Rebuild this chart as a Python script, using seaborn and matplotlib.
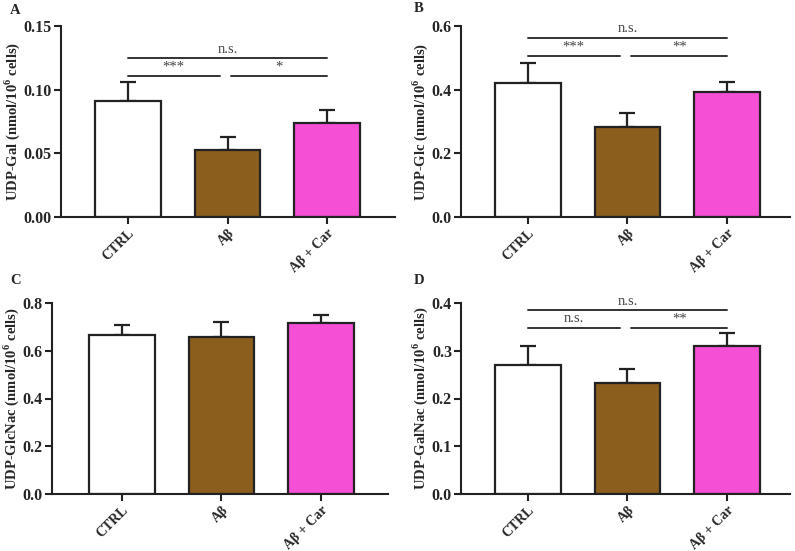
import matplotlib
matplotlib.use("Agg")
import matplotlib.pyplot as plt
import seaborn as sns
import numpy as np
import pandas as pd

categories = ["CTRL", "Aβ", "Aβ + Car"]
colors = ["#FFFFFF", "#8B5E1E", "#F54FD6"]

gal_mean = [0.0913, 0.0529, 0.0736]
gal_err = [0.0147, 0.0097, 0.0107]
glc_mean = [0.422, 0.283, 0.392]
glc_err = [0.063, 0.043, 0.031]
glcnac_mean = [0.668, 0.657, 0.716]
glcnac_err = [0.041, 0.066, 0.034]
galnac_mean = [0.270, 0.2326, 0.310]
galnac_err = [0.040, 0.030, 0.027]

ylabels = ["UDP-Gal (nmol/10$^{\\mathbf{6}}$ cells)",
           "UDP-Glc (nmol/10$^{\\mathbf{6}}$ cells)",
           "UDP-GlcNac (nmol/10$^{\\mathbf{6}}$ cells)",
           "UDP-GalNac (nmol/10$^{\\mathbf{6}}$ cells)"]
letters = ["A", "B", "C", "D"]
ylims = [(0, 0.15), (0, 0.6), (0, 0.8), (0, 0.4)]
yticks = [[0.0, 0.05, 0.10, 0.15], [0.0, 0.2, 0.4, 0.6],
          [0.0, 0.2, 0.4, 0.6, 0.8], [0.0, 0.1, 0.2, 0.3, 0.4]]
yfmt = ["{:.2f}", "{:.1f}", "{:.1f}", "{:.1f}"]

# significance: (top label, top level, left label, right label, lower level)
sig = [("n.s.", 0.125, "***", "*", 0.1107),
       ("n.s.", 0.563, "***", "**", 0.506),
       None,
       ("n.s.", 0.386, "n.s.", "**", 0.349)]

sns.set_style("ticks")
plt.rcParams['font.family'] = ['Liberation Serif', 'DejaVu Serif']
plt.rcParams['mathtext.fontset'] = 'custom'
plt.rcParams['mathtext.rm'] = 'Liberation Serif'
plt.rcParams['mathtext.bf'] = 'Liberation Serif:bold'

fig = plt.figure(figsize=(7.95, 5.51), dpi=100)
W, H = 795, 551
boxes = [(61, 395, 26, 217), (461, 790, 26, 217),
         (52, 388, 303.3, 493.7), (461, 790, 303.3, 493.7)]
letter_pos = [(10, 10), (414, 9), (10, 280), (414, 281)]
xlims = [(-0.67, 2.68), (-0.67, 2.63), (-0.70, 2.67), (-0.67, 2.63)]
means = [gal_mean, glc_mean, glcnac_mean, galnac_mean]
errs = [gal_err, glc_err, glcnac_err, galnac_err]
edge = "#222222"

for i in range(4):
    l, r, t, b = boxes[i]
    ax = fig.add_axes([l / W, 1 - b / H, (r - l) / W, (b - t) / H])
    df = pd.DataFrame({"group": categories, "value": means[i]})
    ax.errorbar(x=np.arange(3), y=means[i], yerr=[np.zeros(3), errs[i]],
                fmt="none", ecolor=edge, elinewidth=1.6, capsize=5.5,
                capthick=1.6, zorder=1)
    sns.barplot(data=df, x="group", y="value", hue="group", palette=colors,
                saturation=1, width=0.66, edgecolor=edge, linewidth=1.6,
                legend=False, ax=ax, zorder=2)
    ax.set_xlim(*xlims[i])
    ax.set_ylim(*ylims[i])
    ax.set_yticks(yticks[i])
    ax.set_yticklabels([yfmt[i].format(v) for v in yticks[i]],
                       fontsize=11.5, fontweight="bold")
    ax.set_xticks(range(3))
    ax.set_xticklabels(categories, rotation=45, ha="right",
                       rotation_mode="anchor", fontsize=10, fontweight="bold")
    ax.set_xlabel("")
    ax.set_ylabel(ylabels[i], fontsize=10.5, fontweight="bold",
                  labelpad=1)
    for s in ["top", "right"]:
        ax.spines[s].set_visible(False)
    for s in ["left", "bottom"]:
        ax.spines[s].set_linewidth(1.5)
        ax.spines[s].set_color(edge)
    ax.tick_params(axis="both", width=1.5, length=5, color=edge, pad=1.5)
    ax.tick_params(axis="x", pad=2)
    fig.text(letter_pos[i][0] / W, 1 - letter_pos[i][1] / H, letters[i],
             fontsize=10.5, fontweight="bold", ha="left", va="center")
    if sig[i] is not None:
        top_lab, top_y, left_lab, right_lab, low_y = sig[i]
        lc = "#333333"
        ax.plot([0, 2], [top_y, top_y], color=lc, lw=1.4, clip_on=False)
        ax.plot([0, 0.92], [low_y, low_y], color=lc, lw=1.4, clip_on=False)
        ax.plot([1.04, 2], [low_y, low_y], color=lc, lw=1.4, clip_on=False)
        yr = ylims[i][1]
        ax.text(1, top_y + yr * 0.012, top_lab, ha="center", va="bottom",
                fontsize=10.5, color="#444444")
        ax.text(0.46, low_y + yr * 0.012, left_lab, ha="center", va="bottom",
                fontsize=10.5, color="#444444")
        ax.text(1.52, low_y + yr * 0.012, right_lab, ha="center", va="bottom",
                fontsize=10.5, color="#444444")

fig.savefig("out.png", dpi=100)
